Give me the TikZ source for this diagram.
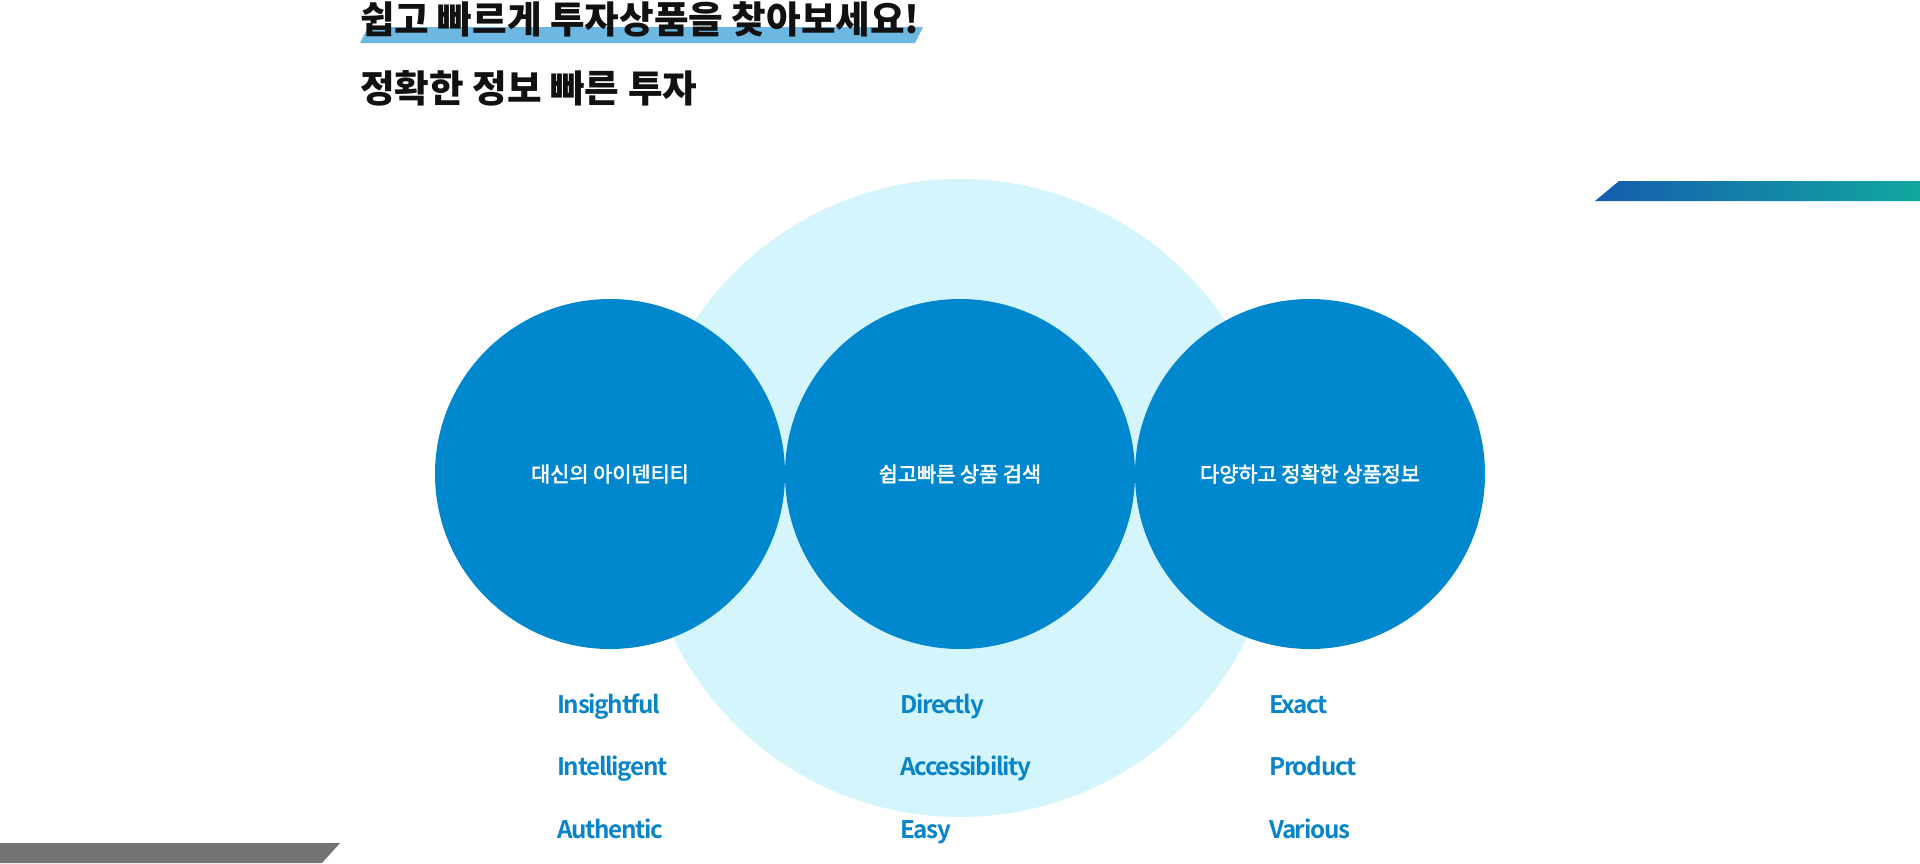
\documentclass[tikz,border=0pt]{standalone}
\usepackage{fontspec}
\setmainfont{Noto Sans CJK KR}
\newfontfamily\krmid[FakeBold=2.5]{Noto Sans CJK KR}
\newfontfamily\latbold[LetterSpace=-5.5]{Noto Sans CJK KR Bold}
\definecolor{circblue}{HTML}{0087CD}
\definecolor{lightcyan}{HTML}{D5F5FC}
\definecolor{labblue}{HTML}{0A84C9}
\definecolor{hlblue}{HTML}{6DB8E2}
\definecolor{bargray}{HTML}{737373}
\definecolor{gradA}{HTML}{155DAE}
\definecolor{gradB}{HTML}{12A7A0}
\definecolor{titleink}{HTML}{111111}
\tikzset{
  bigcirc/.style={circle, fill=circblue, minimum size=350pt, inner sep=0pt, text=white,
    font=\krmid\fontsize{20.8}{20.8}\selectfont},
  bgcirc/.style={circle, fill=lightcyan, minimum size=638pt, inner sep=0pt},
  titletext/.style={anchor=west, inner sep=0pt, text=titleink, font=\bfseries\fontsize{37.6}{37.6}\selectfont},
  wordlab/.style={anchor=base west, inner sep=0pt, text=labblue, font=\latbold\fontsize{24.2}{24.2}\selectfont}
}
\begin{document}
\begin{tikzpicture}[x=1pt,y=-1pt]
\useasboundingbox (0,0) rectangle (1920,863);
\fill[white] (0,0) rectangle (1920,863);
% decorative bars
\fill[hlblue] (360,43) -- (368,27) -- (923,27) -- (915,43) -- cycle;
\shade[left color=gradA, right color=gradB] (1595,201) -- (1619,181) -- (1920,181) -- (1920,201) -- cycle;
\fill[bargray] (0,843) -- (340,843) -- (322,863) -- (0,863) -- cycle;
% titles
\node[titletext] (t1) at (360,19.5) {쉽고 빠르게 투자상품을 찾아보세요!};
\node[titletext] (t2) at (360,88.5) {정확한 정보 빠른 투자};
% circles
\node[bgcirc] (bg) at (960,498) {};
\node[bigcirc] (c1) at (610,474) {대신의 아이덴티티};
\node[bigcirc] (c2) at (960,474) {쉽고빠른 상품 검색};
\node[bigcirc] (c3) at (1310,474) {다양하고 정확한 상품정보};
% word labels
\node[wordlab] (a1) at (557,713) {Insightful};
\node[wordlab] (a2) at (557,775) {Intelligent};
\node[wordlab] (a3) at (557,838) {Authentic};
\node[wordlab] (b1) at (900,713) {Directly};
\node[wordlab] (b2) at (900,775) {Accessibility};
\node[wordlab] (b3) at (900,838) {Easy};
\node[wordlab] (d1) at (1269,713) {Exact};
\node[wordlab] (d2) at (1269,775) {Product};
\node[wordlab] (d3) at (1269,838) {Various};
\end{tikzpicture}
\end{document}
